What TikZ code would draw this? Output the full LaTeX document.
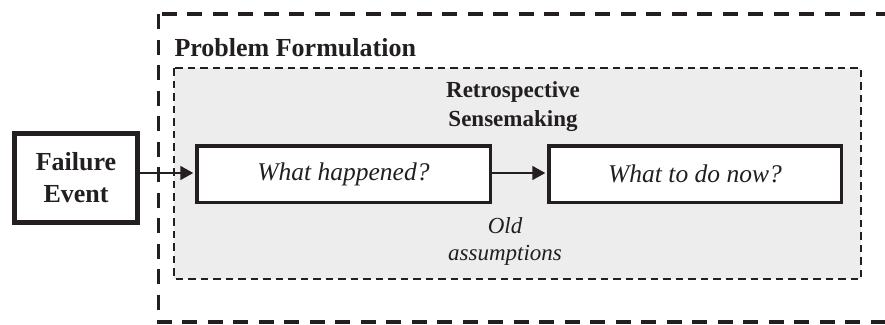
\documentclass[tikz,border=0pt]{standalone}
\usepackage{fontspec}
\setmainfont{Liberation Serif}
\usetikzlibrary{arrows.meta}
\definecolor{inkgray}{HTML}{231F20}
\definecolor{panelgray}{HTML}{EDEDED}

\begin{document}
\begin{tikzpicture}[x=1pt,y=-1pt,>={Triangle[length=13pt,width=14pt]},
  every node/.style={font=\fontsize{26}{30}\selectfont,text=inkgray},
  stepbox/.style={draw=inkgray,line width=3.5pt,fill=white,minimum height=56.5pt,inner sep=0pt},
  flow/.style={->,draw=inkgray,line width=2pt}]
  \useasboundingbox (0,0) rectangle (885,324);
  \clip (0,0) rectangle (885,324);
  % outer frame runs off the right edge
  \draw[inkgray,line width=3.4pt,dash pattern=on 15pt off 10.5pt] (158.5,14) rectangle (905,322);
  \node[anchor=west,font=\fontsize{26}{30}\selectfont\bfseries] (problem) at (171,48) {Problem Formulation};
  % grey panel for sensemaking
  \draw[inkgray,fill=panelgray,line width=1.8pt,dash pattern=on 7.5pt off 5pt] (174,68) rectangle (861,279);
  \node[align=center,font=\fontsize{23}{29}\selectfont\bfseries] (retro) at (513,107) {Retrospective\\Sensemaking};
  \node[align=center,font=\fontsize{23}{27}\selectfont\itshape] (oldassump) at (505,241) {Old\\assumptions};
  % boxes
  \node[draw=inkgray,line width=5pt,fill=white,inner sep=0pt,minimum width=123pt,minimum height=89pt,
    align=center,font=\fontsize{26}{32}\selectfont\bfseries] (failure) at (76,178) {Failure\\Event};
  \node[stepbox,minimum width=293.5pt,font=\fontsize{25.5}{30}\selectfont\itshape] (happened) at (343.5,174) {What happened?};
  \node[stepbox,minimum width=292.5pt,font=\fontsize{25.5}{30}\selectfont\itshape] (todo) at (695,174) {What to do now?};
  % connectors
  \draw[flow] (failure.east |- 0,173) -- ([xshift=-1.75pt]happened.west |- 0,173);
  \draw[flow] (happened.east |- 0,173) -- ([xshift=-1.75pt]todo.west |- 0,173);
\end{tikzpicture}
\end{document}
